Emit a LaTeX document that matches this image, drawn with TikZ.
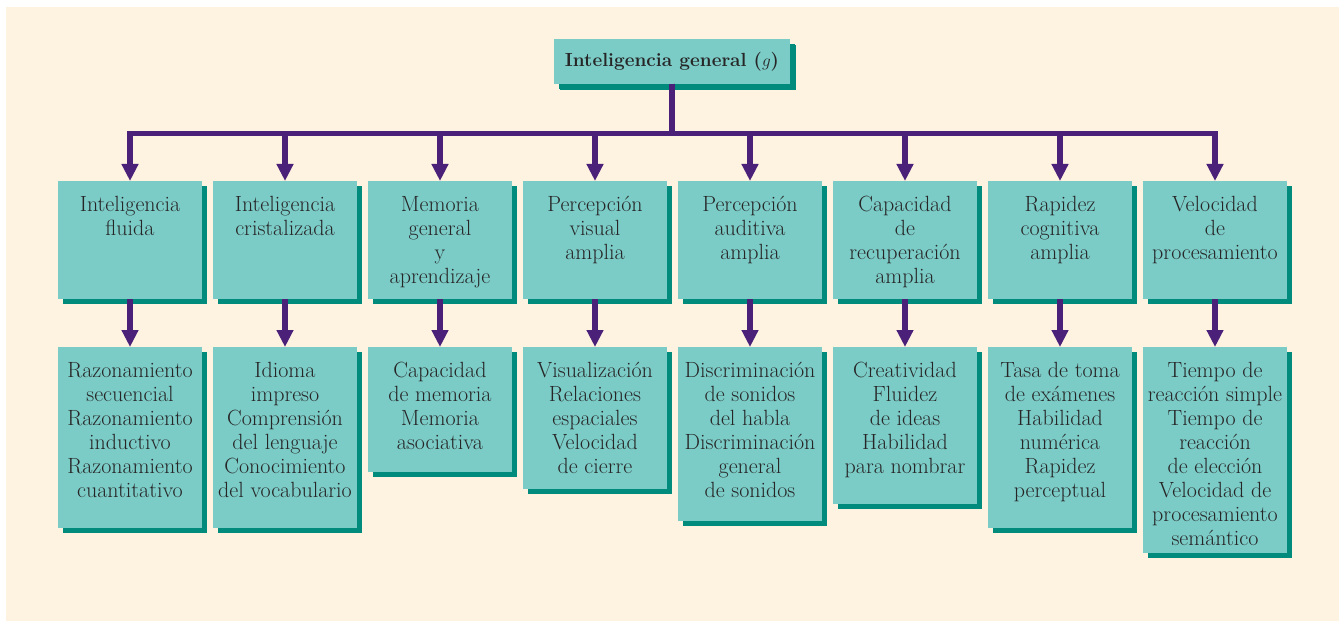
\documentclass[tikz,border=0pt]{standalone}
\usepackage{fontspec}
\usetikzlibrary{arrows.meta,shadows}

\definecolor{paper}{HTML}{FEF2E1}
\definecolor{boxfill}{HTML}{7BCBC7}
\definecolor{boxshade}{HTML}{008B7D}
\definecolor{linkcol}{HTML}{4A2079}
\definecolor{ink}{HTML}{262626}

% fixed-size box, text hung from the top
\newcommand{\cell}[2]{\parbox[c][#1][t]{144pt}{\centering\rule{0pt}{30.5pt}#2}}

\tikzset{
    card/.style={fill=boxfill, inner sep=0pt, outer sep=0pt, anchor=north, text=ink,
        font=\fontsize{22}{24}\selectfont,
        drop shadow={shadow xshift=5pt, shadow yshift=-5pt, opacity=1, fill=boxshade}},
    link/.style={draw=linkcol, line width=5.5pt, line join=miter,
        -{Triangle[width=16pt,length=17pt]}},
}

\begin{document}
\begin{tikzpicture}[x=1pt, y=-1pt]
    \useasboundingbox (0,0) rectangle (1344,623);
    \fill[paper] (6,7) rectangle (1339,621);

    \node[card, anchor=center, minimum width=236pt, minimum height=45pt,
        font=\fontsize{19}{24}\selectfont\bfseries,
        drop shadow={shadow xshift=6pt, shadow yshift=-6pt, opacity=1, fill=boxshade}]
        at (672, 61.5) (g) {Inteligencia general ($g$)};

    % broad abilities
    \node[card] at (130, 181)  (a1) {\cell{118pt}{Inteligencia\\fluida}};
    \node[card] at (285, 181)  (a2) {\cell{118pt}{Inteligencia\\cristalizada}};
    \node[card] at (440, 181)  (a3) {\cell{118pt}{Memoria\\general\\y\\aprendizaje}};
    \node[card] at (595, 181)  (a4) {\cell{118pt}{Percepción\\visual\\amplia}};
    \node[card] at (750, 181)  (a5) {\cell{118pt}{Percepción\\auditiva\\amplia}};
    \node[card] at (905, 181)  (a6) {\cell{118pt}{Capacidad\\de\\recuperación\\amplia}};
    \node[card] at (1060, 181) (a7) {\cell{118pt}{Rapidez\\cognitiva\\amplia}};
    \node[card] at (1215, 181) (a8) {\cell{118pt}{Velocidad\\de\\procesamiento}};

    % narrow abilities
    \node[card] at (130, 347)  (b1) {\cell{181pt}{Razonamiento\\secuencial\\Razonamiento\\inductivo\\Razonamiento\\cuantitativo}};
    \node[card] at (285, 347)  (b2) {\cell{181pt}{Idioma\\impreso\\Comprensión\\del lenguaje\\Conocimiento\\del vocabulario}};
    \node[card] at (440, 347)  (b3) {\cell{125pt}{Capacidad\\de memoria\\Memoria\\asociativa}};
    \node[card] at (595, 347)  (b4) {\cell{142pt}{Visualización\\Relaciones\\espaciales\\Velocidad\\de cierre}};
    \node[card] at (750, 347)  (b5) {\cell{174pt}{Discriminación\\de sonidos\\del habla\\Discriminación\\general\\de sonidos}};
    \node[card] at (905, 347)  (b6) {\cell{157pt}{Creatividad\\Fluidez\\de ideas\\Habilidad\\para nombrar}};
    \node[card] at (1060, 347) (b7) {\cell{181pt}{Tasa de toma\\de exámenes\\Habilidad\\numérica\\Rapidez\\perceptual}};
    \node[card] at (1215, 347) (b8) {\cell{206pt}{Tiempo de\\reacción simple\\Tiempo de\\reacción\\de elección\\Velocidad de\\procesamiento\\semántico}};

    \coordinate (bus) at (672, 133.5);

    \draw[link] (g.south) |- (bus) -| (a1.north);
    \draw[link] (g.south) |- (bus) -| (a2.north);
    \draw[link] (g.south) |- (bus) -| (a3.north);
    \draw[link] (g.south) |- (bus) -| (a4.north);
    \draw[link] (g.south) |- (bus) -| (a5.north);
    \draw[link] (g.south) |- (bus) -| (a6.north);
    \draw[link] (g.south) |- (bus) -| (a7.north);
    \draw[link] (g.south) |- (bus) -| (a8.north);

    \draw[link] (a1.south) -- (b1.north);
    \draw[link] (a2.south) -- (b2.north);
    \draw[link] (a3.south) -- (b3.north);
    \draw[link] (a4.south) -- (b4.north);
    \draw[link] (a5.south) -- (b5.north);
    \draw[link] (a6.south) -- (b6.north);
    \draw[link] (a7.south) -- (b7.north);
    \draw[link] (a8.south) -- (b8.north);
\end{tikzpicture}
\end{document}
